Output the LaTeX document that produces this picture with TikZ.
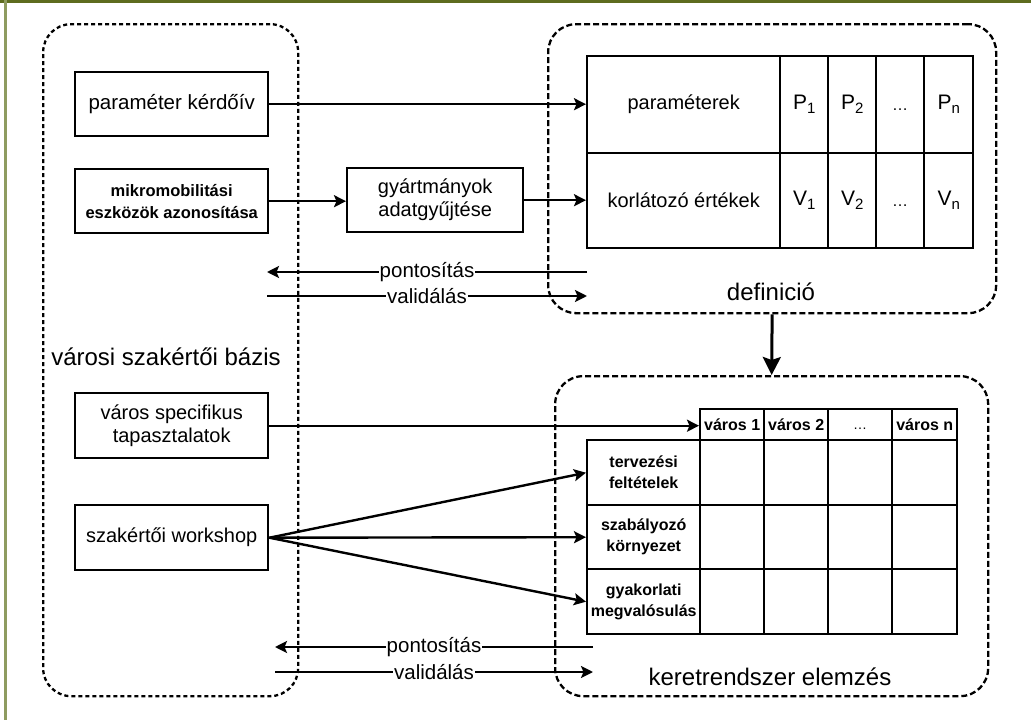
\documentclass[tikz,border=0pt]{standalone}
\usepackage{fontspec}
\setmainfont{Liberation Sans}
\usetikzlibrary{arrows.meta}
\definecolor{framedark}{HTML}{5E6C1F}
\definecolor{framelight}{HTML}{8E9B60}
\newcommand\lowidx[1]{\raisebox{-4pt}{\fontsize{15}{15}\selectfont #1}}
\newcommand\fs[2]{\fontsize{#1}{#2}\selectfont}
\newcommand\lowdots{\vphantom{P}…}

\begin{document}
\begin{tikzpicture}[x=1pt,y=-1pt,
  every node/.style={font=\fs{20}{23}},
  group/.style={draw, line width=2.3pt, dash pattern=on 4pt off 3pt,
                rounded corners=28pt, anchor=north west, inner sep=0pt},
  stepbox/.style={draw, line width=2.4pt, anchor=north west, inner sep=0pt, align=center},
  cell/.style={draw, line width=2.4pt, anchor=north west, inner sep=0pt, align=center},
  gridtext/.style={font=\bfseries\fs{16}{21}},
  arr/.style={line width=2.4pt, -{Stealth[length=12pt,width=12pt,inset=2.5pt]}},
  flowlbl/.style={fill=white, inner sep=1pt, font=\fs{20.5}{23}},
  title/.style={font=\fs{24}{28}}]

\useasboundingbox (0,0) rectangle (1031,720);
\fill[white] (0,0) rectangle (1031,720);

% page frame
\fill[framedark] (0,0) rectangle (1031,3);
\fill[framelight] (4,0) rectangle (6.5,720);

% dashed groups
\node[group, minimum width=255pt, minimum height=672pt] (base) at (42,23) {};
\node[group, dash pattern=on 6pt off 3pt, minimum width=448pt, minimum height=289pt] (defbox) at (547,23) {};
\node[group, dash pattern=on 6pt off 3pt, minimum width=433pt, minimum height=320pt] (kerbox) at (554,375) {};

\node[title] (basettl) at (166,357) {városi szakértői bázis};
\node[title] (defttl) at (771,292) {definició};
\node[title] (kerttl) at (770,677) {keretrendszer elemzés};

% input boxes
\node[stepbox, minimum width=193pt, minimum height=64pt, font=\fs{20.5}{23}] (kerdoiv) at (74,71) {paraméter kérdőív};
\node[stepbox, minimum width=193pt, minimum height=64pt, font=\bfseries\fs{16.5}{22}] (mikro) at (74,168) {mikromobilitási\\eszközök azonosítása};
\node[stepbox, minimum width=176pt, minimum height=64pt] (gyart) at (346,167) {gyártmányok\\adatgyűjtése};
\node[stepbox, minimum width=193pt, minimum height=65pt] (tapaszt) at (74,392) {város specifikus\\tapasztalatok};
\node[stepbox, minimum width=193pt, minimum height=65pt] (workshop) at (74,504) {szakértői workshop};

% parameter table
\node[cell, minimum width=193pt, minimum height=97pt] (tpar) at (586,55) {paraméterek};
\node[cell, minimum width=48pt, minimum height=97pt, font=\fs{21}{23}] (tp1) at (779,55) {P\lowidx{1}};
\node[cell, minimum width=48pt, minimum height=97pt, font=\fs{21}{23}] (tp2) at (827,55) {P\lowidx{2}};
\node[cell, minimum width=48pt, minimum height=97pt, font=\fs{16}{18}] (tpd) at (875,55) {\lowdots};
\node[cell, minimum width=49pt, minimum height=97pt, font=\fs{21}{23}] (tpn) at (923,55) {P\lowidx{n}};
\node[cell, minimum width=193pt, minimum height=95pt] (tkor) at (586,152) {korlátozó értékek};
\node[cell, minimum width=48pt, minimum height=95pt, font=\fs{21}{23}] (tv1) at (779,152) {V\lowidx{1}};
\node[cell, minimum width=48pt, minimum height=95pt, font=\fs{21}{23}] (tv2) at (827,152) {V\lowidx{2}};
\node[cell, minimum width=48pt, minimum height=95pt, font=\fs{16}{18}] (tvd) at (875,152) {\lowdots};
\node[cell, minimum width=49pt, minimum height=95pt, font=\fs{21}{23}] (tvn) at (923,152) {V\lowidx{n}};

% city table: header row
\node[cell, gridtext, minimum width=64pt, minimum height=31pt] (hc1) at (699,408) {város 1};
\node[cell, gridtext, minimum width=64pt, minimum height=31pt] (hc2) at (763,408) {város 2};
\node[cell, minimum width=64pt, minimum height=31pt, font=\fs{14}{16}] (hcd) at (827,408) {\lowdots};
\node[cell, gridtext, minimum width=65pt, minimum height=31pt] (hcn) at (891,408) {város n};

% city table: row labels
\node[cell, gridtext, minimum width=113pt, minimum height=65pt] (r1) at (586,439) {tervezési\\feltételek};
\node[cell, gridtext, minimum width=113pt, minimum height=64pt] (r2) at (586,504) {szabályozó\\környezet};
\node[cell, gridtext, minimum width=113pt, minimum height=65pt] (r3) at (586,568) {gyakorlati\\megvalósulás};

% city table: empty cells
\foreach \cx/\cw [count=\i] in {699/64, 763/64, 827/64, 891/65}
  \foreach \ry/\rh [count=\j] in {439/65, 504/64, 568/65}
    \node[cell, minimum width=\cw pt, minimum height=\rh pt] (c\i\j) at (\cx,\ry) {};

% flows into the definition
\draw[arr] (kerdoiv.east) -- (tpar.west |- kerdoiv.east);
\draw[arr] (mikro.east) -- (gyart.west |- mikro.east);
\draw[arr] (gyart.east) -- (tkor.west |- gyart.east);

% feedback between the expert base and the definition
\coordinate (dpa) at (587,272);
\coordinate (dpb) at (267,272);
\coordinate (dva) at (267,296);
\coordinate (dvb) at (587,296);
\draw[arr] (dpa) -- node[flowlbl] {pontosítás} (dpb);
\draw[arr] (dva) -- node[flowlbl] {validálás} (dvb);

% definition feeds the framework analysis
\draw[line width=3pt, -{Stealth[length=18pt,width=18pt,inset=3pt]}] (defbox.south) -- (kerbox.north);

% flows into the framework analysis
\draw[arr] (tapaszt.east) -- (hc1.west |- tapaszt.east);
\draw[arr] (workshop.east) -- (r1.west);
\draw[arr] (workshop.east) -- (r2.west);
\draw[arr] (workshop.east) -- (r3.west);

% feedback between the expert base and the framework analysis
\coordinate (kpa) at (593,647);
\coordinate (kpb) at (275,647);
\coordinate (kva) at (275,672);
\coordinate (kvb) at (593,672);
\draw[arr] (kpa) -- node[flowlbl] {pontosítás} (kpb);
\draw[arr] (kva) -- node[flowlbl] {validálás} (kvb);
\end{tikzpicture}
\end{document}
